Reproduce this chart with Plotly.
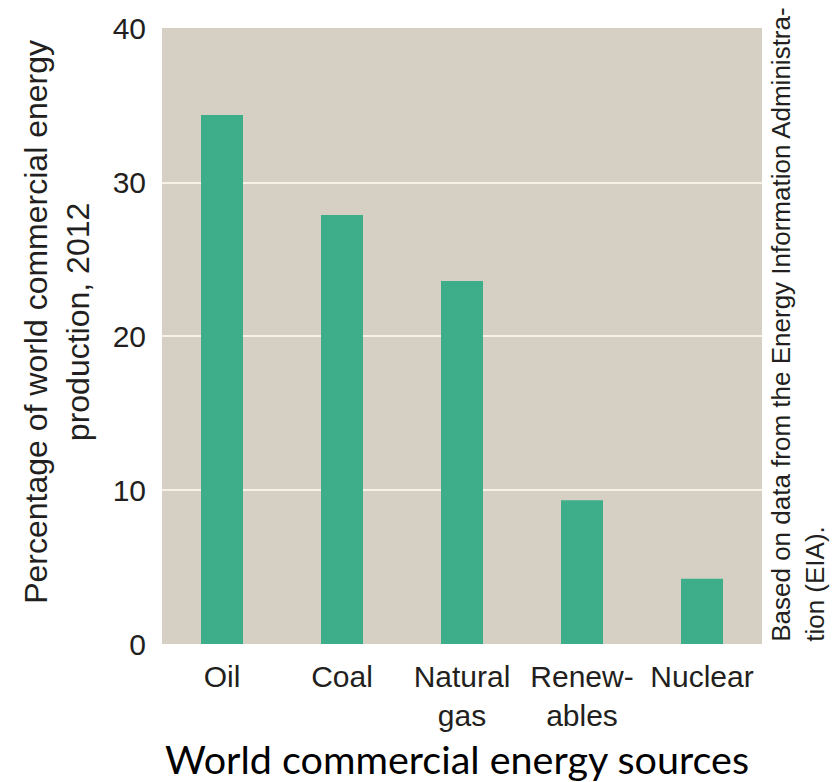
import plotly.graph_objects as go

categories = ["Oil", "Coal", "Natural<br>gas", "Renew-<br>ables", "Nuclear"]
values = [34.4, 27.9, 23.6, 9.35, 4.25]
y_ticks = [0, 10, 20, 30, 40]

BG = "#d6cfc4"
BAR = "#3eae8a"
GRID = "#f7f2e7"
TXT = "#231f20"
SANS = "Liberation Sans, Arial, sans-serif"

fig = go.Figure()
fig.add_trace(go.Bar(x=list(range(len(categories))), y=values, marker_color=BAR,
                     marker_line_width=0, width=0.35))

fig.update_layout(
    width=835, height=782,
    margin=dict(l=162, r=73, t=21, b=138),
    paper_bgcolor="white", plot_bgcolor=BG,
    showlegend=False,
    font=dict(family=SANS, color=TXT),
    xaxis=dict(
        tickmode="array", tickvals=list(range(len(categories))), ticktext=categories,
        range=[-0.5, 4.5], showgrid=False, zeroline=False, showline=False,
        ticks="outside", ticklen=6, tickcolor="rgba(0,0,0,0)",
        tickfont=dict(size=30, family=SANS, color=TXT),
    ),
    yaxis=dict(
        range=[0, 40.05], tickvals=y_ticks, showgrid=True, gridcolor=GRID, gridwidth=2,
        zeroline=False, showline=False,
        ticks="outside", ticklen=9, tickcolor="rgba(0,0,0,0)",
        tickfont=dict(size=30, family=SANS, color=TXT),
    ),
    annotations=[
        dict(text="Percentage of world commercial energy<br>production, 2012",
             xref="paper", yref="paper", x=-0.175, y=0.523,
             xanchor="center", yanchor="middle", textangle=-90, align="center",
             showarrow=False, font=dict(size=32, family=SANS, color=TXT)),
        dict(text="World commercial energy sources",
             xref="paper", yref="paper", x=0.491, y=-0.186,
             xanchor="center", yanchor="middle", showarrow=False,
             font=dict(size=39.5, family="Lato, Open Sans, sans-serif", color="black")),
        dict(text="Based on data from the Energy Information Administra-<br>tion (EIA).",
             xref="paper", yref="paper", x=1.003, y=0, xanchor="left", yanchor="bottom",
             textangle=-90, align="left", showarrow=False,
             font=dict(size=26, family=SANS, color=TXT)),
    ],
)

fig.write_html("out.html")
